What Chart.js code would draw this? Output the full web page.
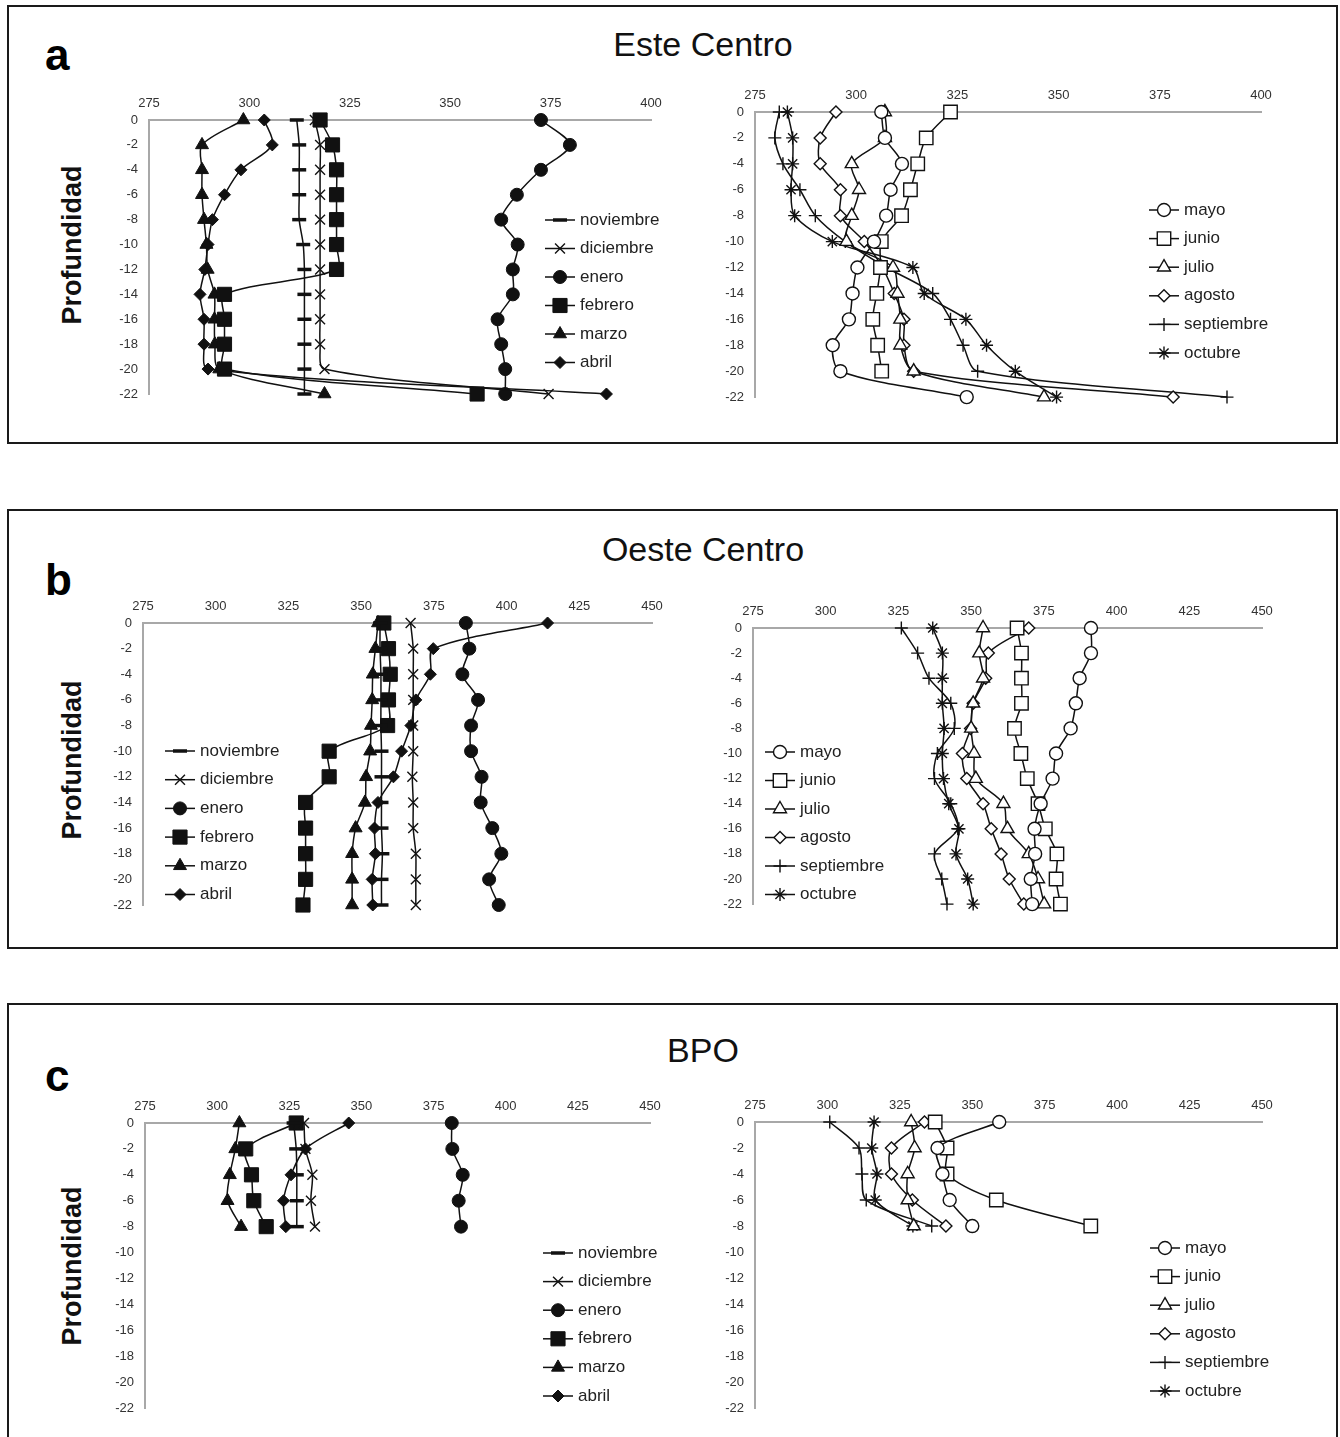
<!DOCTYPE html>
<html>
<head>
<meta charset="utf-8">
<script src="https://cdn.jsdelivr.net/npm/chart.js@4.4.1/dist/chart.umd.min.js"></script>
<style>
  body { margin: 0; background: #fff; font-family: "Liberation Sans", Arial, sans-serif; }
  #page { position: relative; width: 1340px; height: 1437px; overflow: hidden; }
  .box { position: absolute; border: 2px solid #1a1a1a; box-sizing: border-box; }
  .title { position: absolute; font-size: 34px; line-height: 36px; color: #111; transform: translateX(-50%); white-space: nowrap; }
  .tag { position: absolute; font-size: 44px; line-height: 44px; font-weight: bold; color: #000; }
  .ylab { position: absolute; font-size: 27px; font-weight: bold; color: #111; white-space: nowrap;
          transform: translate(-50%, -50%) rotate(-90deg); }
  canvas { position: absolute; }
</style>
</head>
<body>
<div id="page">
  <div class="box" style="left:7px;top:5px;width:1331px;height:439px"></div>
  <div class="box" style="left:7px;top:509px;width:1331px;height:440px"></div>
  <div class="box" style="left:7px;top:1003px;width:1331px;height:460px"></div>

  <div class="title" style="left:703px;top:26px">Este Centro</div>
  <div class="title" style="left:703px;top:531px">Oeste Centro</div>
  <div class="title" style="left:703px;top:1032px">BPO</div>

  <div class="tag" style="left:45px;top:33px">a</div>
  <div class="tag" style="left:45px;top:558px">b</div>
  <div class="tag" style="left:45px;top:1054px">c</div>

  <div class="ylab" style="left:72px;top:245px">Profundidad</div>
  <div class="ylab" style="left:72px;top:760px">Profundidad</div>
  <div class="ylab" style="left:72px;top:1266px">Profundidad</div>
</div>

<script>
'use strict';

// depth levels (m)
var DEPTH     = [0, -2, -4, -6, -8, -10, -12, -14, -16, -18, -20, -22];
var DEPTH_BPO = [0, -2, -4, -6, -8];

var WINTER = ['noviembre', 'diciembre', 'enero', 'febrero', 'marzo', 'abril'];
var SUMMER = ['mayo', 'junio', 'julio', 'agosto', 'septiembre', 'octubre'];

var X_TICKS_EC = [275, 300, 325, 350, 375, 400];
var X_TICKS_WIDE = [275, 300, 325, 350, 375, 400, 425, 450];

// Este Centro, nov-abr
var EC_NOV = [311.8, 312.4, 312.4, 312.4, 312.4, 313.4, 313.7, 313.7, 313.7, 313.7, 313.7, 313.7];
var EC_DIC = [316.3, 317.6, 317.6, 317.6, 317.6, 317.6, 317.6, 317.6, 317.6, 317.6, 318.7, 374.5];
var EC_ENE = [372.6, 379.8, 372.6, 366.6, 362.7, 366.8, 365.6, 365.6, 361.8, 362.7, 363.7, 363.7];
var EC_FEB = [317.6, 320.7, 321.7, 321.7, 321.7, 321.7, 321.7, 293.8, 293.8, 293.8, 293.8, 356.7];
var EC_MAR = [298.5, 288.2, 288.2, 288.2, 288.7, 289.3, 289.6, 291.3, 291.3, 291.4, 292.5, 318.7];
var EC_ABR = [303.7, 305.7, 297.9, 293.8, 290.8, 289.7, 288.9, 287.7, 288.7, 288.7, 289.7, 388.9];

// Este Centro, may-oct
var EC_MAY = [306.2, 307.1, 311.3, 308.5, 307.4, 304.4, 300.3, 299.1, 298.2, 294.2, 296.1, 327.3];
var EC_JUN = [323.3, 317.3, 315.2, 313.4, 311.2, 306.2, 306.0, 305.1, 304.1, 305.3, 306.3, null];
var EC_JUL = [307.1, 307.1, 298.9, 300.7, 298.9, 297.6, 309.1, 310.2, 310.9, 310.9, 314.2, 346.4];
var EC_AGO = [295.0, 291.1, 291.1, 296.1, 296.1, 302.0, 306.5, 309.4, 311.8, 311.8, 314.2, 378.3];
var EC_SEP = [281.0, 279.9, 281.9, 286.1, 289.9, 297.3, 307.5, 318.9, 323.3, 326.4, 330.0, 391.6];
var EC_OCT = [283.0, 284.3, 284.3, 283.9, 284.8, 294.1, 314.0, 316.8, 327.1, 332.2, 339.3, 349.5];

// Oeste Centro, nov-abr
var OC_NOV = [356.5, 356.5, 356.8, 356.8, 356.8, 357.0, 357.0, 357.0, 357.0, 357.3, 357.0, 357.0];
var OC_DIC = [367.0, 367.9, 367.9, 367.9, 367.9, 367.9, 367.6, 367.9, 367.9, 368.8, 368.8, 368.8];
var OC_ENE = [386.0, 387.2, 384.8, 390.2, 387.8, 387.8, 391.4, 391.1, 395.1, 398.2, 394.0, 397.3];
var OC_FEB = [357.8, 359.4, 360.0, 359.4, 359.1, 339.0, 339.0, 330.9, 330.9, 330.9, 330.9, 330.0];
var OC_MAR = [355.8, 354.9, 354.0, 353.8, 353.4, 353.1, 351.7, 351.3, 348.1, 346.9, 346.9, 346.9];
var OC_ABR = [414.1, 374.8, 373.8, 368.8, 367.1, 363.9, 361.1, 355.8, 354.6, 354.9, 353.8, 354.0];

// Oeste Centro, may-oct
var OC_MAY = [391.2, 391.2, 387.3, 386.0, 384.2, 379.2, 378.0, 373.9, 371.8, 372.0, 370.5, 371.0];
var OC_JUN = [365.8, 367.3, 367.3, 367.3, 364.9, 367.1, 369.3, 373.0, 375.5, 379.5, 379.2, 380.7];
var OC_JUL = [354.1, 352.8, 354.1, 350.7, 350.0, 351.0, 351.6, 361.1, 362.5, 369.8, 373.0, 375.1];
var OC_AGO = [369.8, 355.9, 355.0, 350.7, 349.8, 347.0, 348.5, 354.1, 356.9, 360.3, 363.1, 368.1];
var OC_SEP = [326.0, 331.6, 335.5, 343.0, 344.2, 338.4, 337.4, 343.0, 345.4, 337.4, 339.9, 341.7];
var OC_OCT = [336.8, 340.1, 340.1, 340.1, 340.7, 340.1, 340.5, 342.3, 345.8, 344.8, 348.8, 350.7];

// BPO, nov-abr
var BP_NOV = [326.5, 327.4, 327.6, 327.6, 327.6];
var BP_DIC = [330.1, 330.6, 333.0, 332.5, 333.9];
var BP_ENE = [381.3, 381.5, 385.1, 383.7, 384.5];
var BP_FEB = [327.4, 309.9, 311.9, 312.7, 317.0];
var BP_MAR = [307.7, 306.3, 304.4, 303.6, 308.3];
var BP_ABR = [345.6, 330.6, 325.6, 323.0, 323.8];

// BPO, may-oct
var BP_MAY = [359.3, 338.0, 339.7, 342.2, 350.0];
var BP_JUN = [337.2, 341.3, 341.3, 358.3, 390.9];
var BP_JUL = [328.9, 330.1, 327.7, 327.7, 329.8];
var BP_AGO = [333.5, 322.1, 322.1, 329.3, 340.9];
var BP_SEP = [300.8, 310.9, 311.9, 313.4, 336.0];
var BP_OCT = [316.1, 315.3, 317.1, 316.5, 329.5];

var INK  = '#111111';
var FONT = '"Liberation Sans", Arial, sans-serif';

// marker look for each month, same order as the name lists
var WINTER_MARK = [
  { style: 'line',     r: 7,   bw: 3.5, fill: INK },
  { style: 'crossRot', r: 7,   bw: 1.4, fill: INK },
  { style: 'circle',   r: 6.5, bw: 1,   fill: INK },
  { style: 'rect',     r: 10,  bw: 1,   fill: INK },
  { style: 'triangle', r: 7.5, bw: 1,   fill: INK },
  { style: 'rectRot',  r: 6,   bw: 1,   fill: INK },
];
var SUMMER_MARK = [
  { style: 'circle',   r: 6.5, bw: 1.4, fill: '#ffffff' },
  { style: 'rect',     r: 9.5, bw: 1.4, fill: '#ffffff' },
  { style: 'triangle', r: 7.5, bw: 1.4, fill: '#ffffff' },
  { style: 'rectRot',  r: 6,   bw: 1.4, fill: '#ffffff' },
  { style: 'cross',    r: 6.5, bw: 1.4, fill: INK },
  { style: 'star',     r: 6.5, bw: 1.4, fill: INK },
];

var Y_W = 50;   // fixed width of the depth axis
var X_H = 26;   // fixed height of the top axis

var sideLegend = {
  id: 'sideLegend',
  afterDraw: function(chart, args, opts) {
    var ctx = chart.ctx;
    ctx.save();
    chart.data.datasets.forEach(function(ds, i) {
      var y = opts.y + i * opts.step;
      ctx.strokeStyle = INK;
      ctx.lineWidth = 1.5;
      ctx.beginPath();
      ctx.moveTo(opts.x, y);
      ctx.lineTo(opts.x + 30, y);
      ctx.stroke();
      ctx.fillStyle = ds.pointBackgroundColor;
      ctx.lineWidth = ds.pointBorderWidth;
      Chart.helpers.drawPoint(ctx, {
        pointStyle: ds.pointStyle, radius: ds.pointRadius,
        rotation: 0, borderWidth: ds.pointBorderWidth,
      }, opts.x + 15, y);
      ctx.fillStyle = '#222';
      ctx.font = '17px ' + FONT;
      ctx.textBaseline = 'middle';
      ctx.textAlign = 'left';
      ctx.fillText(ds.label, opts.x + 35, y);
    });
    ctx.restore();
  },
};

function makeSets(names, marks, depth, series) {
  return names.map(function(name, i) {
    var pts = [];
    series[i].forEach(function(v, k) {
      if (v !== null) pts.push({ x: v, y: depth[k] });
    });
    var m = marks[i];
    return {
      label: name,
      data: pts,
      borderColor: INK,
      borderWidth: 1.5,
      tension: 0.3,
      clip: false,
      pointStyle: m.style,
      pointRadius: m.r,
      pointBorderWidth: m.bw,
      pointBorderColor: INK,
      pointBackgroundColor: m.fill,
    };
  });
}

// area = page coords of the plot box [left, top, right, bottom]
// legend = page coords of the first legend row's line start, row step
function drawPanel(area, xmax, ticks, datasets, legend) {
  var L = area[0] - 70, T = area[1] - 40;
  var W = area[2] - area[0] + 100, H = area[3] - area[1] + 50;
  var cv = document.createElement('canvas');
  cv.width = W; cv.height = H;
  cv.style.left = L + 'px'; cv.style.top = T + 'px';
  document.getElementById('page').appendChild(cv);

  return new Chart(cv.getContext('2d'), {
    type: 'line',
    data: { datasets: datasets },
    plugins: [sideLegend],
    options: {
      responsive: false,
      animation: false,
      events: [],
      layout: { padding: { left: 70 - Y_W, top: 40 - X_H, right: 30, bottom: 10 } },
      plugins: {
        legend: { display: false },
        tooltip: { enabled: false },
        sideLegend: { x: legend[0] - L, y: legend[1] - T, step: legend[2] },
      },
      scales: {
        x: {
          type: 'linear', position: 'top',
          min: ticks[0], max: xmax,
          afterBuildTicks: function(s) { s.ticks = ticks.map(function(v) { return { value: v }; }); },
          afterFit: function(s) { s.height = X_H; s.paddingLeft = 0; s.paddingRight = 0; },
          grid: { display: false, drawTicks: false },
          border: { color: '#a8a8a8', width: 2 },
          ticks: { color: '#333', padding: 9, font: { size: 13, family: FONT } },
        },
        y: {
          type: 'linear',
          min: -22, max: 0,
          afterBuildTicks: function(s) { s.ticks = DEPTH.map(function(v) { return { value: v }; }); },
          afterFit: function(s) { s.width = Y_W; s.paddingTop = 0; s.paddingBottom = 0; },
          grid: { display: false, drawTicks: false },
          border: { color: '#a8a8a8', width: 2 },
          ticks: { color: '#333', padding: 11, font: { size: 13, family: FONT } },
        },
      },
    },
  });
}

drawPanel([149, 120, 651, 395], 400, X_TICKS_EC,
  makeSets(WINTER, WINTER_MARK, DEPTH, [EC_NOV, EC_DIC, EC_ENE, EC_FEB, EC_MAR, EC_ABR]),
  [545, 220, 28.5]);
drawPanel([755, 112, 1261, 398], 400, X_TICKS_EC,
  makeSets(SUMMER, SUMMER_MARK, DEPTH, [EC_MAY, EC_JUN, EC_JUL, EC_AGO, EC_SEP, EC_OCT]),
  [1149, 210, 28.6]);

drawPanel([143, 623, 652, 906], 450, X_TICKS_WIDE,
  makeSets(WINTER, WINTER_MARK, DEPTH, [OC_NOV, OC_DIC, OC_ENE, OC_FEB, OC_MAR, OC_ABR]),
  [165, 751, 28.7]);
drawPanel([753, 628, 1262, 905], 450, X_TICKS_WIDE,
  makeSets(SUMMER, SUMMER_MARK, DEPTH, [OC_MAY, OC_JUN, OC_JUL, OC_AGO, OC_SEP, OC_OCT]),
  [765, 752, 28.5]);

drawPanel([145, 1123, 650, 1409], 450, X_TICKS_WIDE,
  makeSets(WINTER, WINTER_MARK, DEPTH_BPO, [BP_NOV, BP_DIC, BP_ENE, BP_FEB, BP_MAR, BP_ABR]),
  [543, 1253, 28.6]);
drawPanel([755, 1122, 1262, 1409], 450, X_TICKS_WIDE,
  makeSets(SUMMER, SUMMER_MARK, DEPTH_BPO, [BP_MAY, BP_JUN, BP_JUL, BP_AGO, BP_SEP, BP_OCT]),
  [1150, 1248, 28.6]);
</script>
</body>
</html>
